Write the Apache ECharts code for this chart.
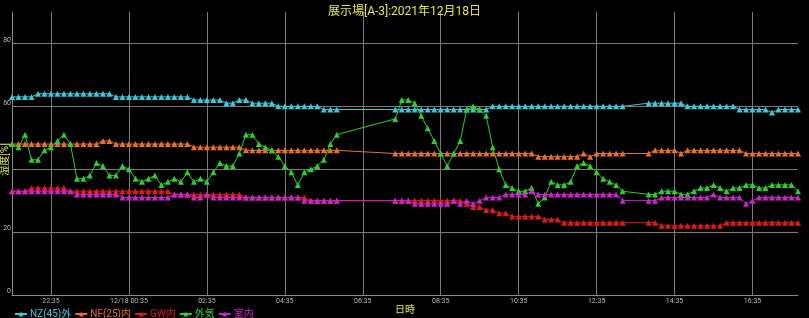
<!DOCTYPE html>
<html>
<head>
<meta charset="utf-8">
<script src="https://cdn.jsdelivr.net/npm/echarts@6/dist/echarts.min.js"></script>
<style>
html, body { margin: 0; padding: 0; background: #000; }
#chart { width: 809px; height: 318px; }
</style>
</head>
<body>
<div id="chart"></div>
<script>
// 10-minute readings, 12/17 21:35 .. 12/18 17:45
var times = []
for (var m = 21 * 60 + 35; m <= (24 + 17) * 60 + 45; m += 10) {
  var h = Math.floor(m / 60) % 24
  var mm = m % 60
  times.push((h < 10 ? '0' : '') + h + ':' + (mm < 10 ? '0' : '') + mm)
}

var nz45 = [
  63, 63, 63, 63, 64, 64, 64, 64, 64, 64, 64, 64, 64, 64, 64, 64,
  63, 63, 63, 63, 63, 63, 63, 63, 63, 63, 63, 63,
  62, 62, 62, 62, 62, 61, 61, 62, 62, 61, 61, 61, 61,
  60, 60, 60, 60, 60, 60, 60, 59, 59, 59,
  null, null, null, null, null, null, null, null,
  59, 59, 59, 59, 59, 59, 59, 59, 59, 59, 59, 59, 59, 59, 59,
  60, 60, 60, 60, 60, 60, 60, 60, 60, 60, 60, 60, 60, 60, 60, 60, 60, 60, 60, 60, 60,
  null, null, null,
  61, 61, 61, 61, 61, 61, 60, 60, 60, 60, 60, 60, 60, 60,
  59, 59, 59, 59, 59, 58, 59, 59, 59, 59
]
var nf25 = [
  48, 48, 48, 48, 48, 48, 48, 48, 48, 48, 48, 48, 48, 48, 49, 49,
  48, 48, 48, 48, 48, 48, 48, 48, 48, 48, 48, 48,
  47, 47, 47, 47, 47, 47, 47, 47,
  46, 46, 46, 46, 46, 46, 46, 46, 46, 46, 46, 46, 46, 46, 46,
  null, null, null, null, null, null, null, null,
  45, 45, 45, 45, 45, 45, 45, 45, 45, 45, 45, 45, 45, 45, 45, 45, 45, 45, 45, 45, 45, 45,
  44, 44, 44, 44, 44, 44, 44, 45, 44, 45, 45, 45, 45, 45,
  null, null, null,
  45, 46, 46, 46, 46, 45, 46, 46, 46, 46, 46, 46, 46, 46, 46,
  45, 45, 45, 45, 45, 45, 45, 45, 45
]
var gw = [
  33, 33, 33, 34, 34, 34, 34, 34, 34,
  33, 33, 33, 33, 33, 33, 33, 33, 33, 33, 33, 33, 33, 33, 33, 33,
  32, 32, 32, 32, 32, 32, 32, 32, 32, 32, 32,
  31, 31, 31, 31, 31, 31, 31, 31, 31, 31,
  30, 30, 30, 30, 30,
  null, null, null, null, null, null, null, null,
  30, 30, 30, 30, 30, 30, 30, 30, 30, 30, 30,
  29, 28, 28, 27, 27, 26, 26, 25, 25, 25, 25, 25, 24, 24, 24,
  23, 23, 23, 23, 23, 23, 23, 23, 23, 23,
  null, null, null,
  23, 23, 22, 22, 22, 22, 22, 22, 22, 22, 22, 22,
  23, 23, 23, 23, 23, 23, 23, 23, 23, 23, 23, 23
]
var outside = [
  48, 47, 51, 43, 43, 46, 47, 49, 51, 48,
  37, 37, 38, 42, 41, 38, 38, 41, 40, 37,
  36, 37, 38, 35, 36, 37, 36, 39, 36, 37,
  36, 39, 42, 41, 41, 45, 51, 51, 48, 47,
  46, 44, 41, 39, 35, 39, 40, 41, 43, 48, 51,
  null, null, null, null, null, null, null, null,
  56, 62, 62, 61, 57, 53, 49, 45, 41, 45, 49,
  59, 60, 59, 57, 47, 40, 35, 34, 33, 33,
  34, 29, 31, 36, 35, 35, 36, 41, 42, 41,
  39, 37, 36, 35, 33,
  null, null, null,
  32, 32, 33, 33, 33, 32, 32, 33, 34, 34,
  35, 34, 33, 34, 34, 35, 35, 34, 34, 35,
  35, 35, 35, 33
]
var room = [
  33, 33, 33, 33, 33, 33, 33, 33, 33, 33,
  32, 32, 32, 32, 32, 32, 32,
  31, 31, 31, 31, 31, 31, 31, 31,
  32, 32, 32, 31, 31, 32,
  31, 31, 31, 31, 31, 31, 31, 31, 31, 31, 31, 31, 31, 31,
  30, 30, 30, 30, 30, 30,
  null, null, null, null, null, null, null, null,
  30, 30, 30, 29, 29, 29, 29, 29, 29, 30, 29, 30, 29, 30,
  31, 31, 31, 32, 32, 32, 32, 33,
  32, 32, 32, 32, 32, 32, 32, 32, 32, 32, 32, 32, 32, 30,
  null, null, null,
  30, 30, 31, 31, 31, 31, 31, 31, 31, 31, 32, 31, 31, 31, 31, 29, 30,
  31, 31, 31, 31, 31, 31, 31
]

var names = ['NZ(45)外', 'NF(25)内', 'GW内', '外気', '室内']
var colors = ['#3cc8d8', '#e8702c', '#dc1c1c', '#2ed02e', '#cc24cc']
var values = [nz45, nf25, gw, outside, room]

var myChart = echarts.init(document.getElementById('chart'))

var everyTwoHours = function (idx) {
  return idx % 12 === 6
}

var option = {
  backgroundColor: '#000',
  animation: false,
  textStyle: {
    fontFamily: 'Roboto, "Noto Sans CJK JP", sans-serif'
  },
  title: {
    text: '展示場[A-3]:2021年12月18日',
    left: 'center',
    top: 1,
    textStyle: {
      color: '#e6e64a',
      fontSize: 12,
      fontWeight: 'normal'
    }
  },
  legend: {
    left: 9,
    bottom: -6,
    itemWidth: 12,
    itemHeight: 6,
    itemGap: 3,
    data: names.map(function (n, i) {
      return { name: n, textStyle: { color: colors[i] } }
    }),
    textStyle: { fontSize: 10, padding: [0, 0, 0, -2] }
  },
  grid: {
    left: 12,
    right: 11,
    top: 12,
    bottom: 23,
    outerBoundsMode: 'none'
  },
  xAxis: {
    type: 'category',
    boundaryGap: false,
    data: times,
    name: '日時',
    nameLocation: 'middle',
    nameGap: 10,
    nameMoveOverlap: false,
    nameTextStyle: { color: '#e6e64a', fontSize: 10 },
    axisLine: { lineStyle: { color: '#8a8a8a' } },
    axisTick: { show: false },
    axisLabel: {
      interval: everyTwoHours,
      color: '#bbb',
      fontSize: 7,
      margin: 3,
      formatter: function (v) {
        return v.indexOf('00:') === 0 ? '12/18 ' + v : v
      }
    },
    splitLine: {
      show: true,
      interval: everyTwoHours,
      lineStyle: { color: '#7a7a7a', width: 1 }
    }
  },
  yAxis: {
    type: 'value',
    min: 0,
    max: 90,
    interval: 20,
    name: '湿度[%]',
    nameLocation: 'middle',
    nameGap: 2,
    nameMoveOverlap: false,
    nameTextStyle: { color: '#e6e64a', fontSize: 10, padding: [0, 12, 0, 0] },
    axisLine: { show: true, lineStyle: { color: '#8a8a8a' } },
    axisTick: { show: false },
    axisLabel: {
      color: '#bbb',
      fontSize: 7,
      margin: 1,
      verticalAlign: 'bottom',
      showMaxLabel: false,
      formatter: function (v) {
        return v === 40 ? '' : v
      }
    },
    splitLine: {
      show: true,
      showMaxLine: false,
      lineStyle: { color: '#7a7a7a', width: 1 }
    }
  },
  series: values.map(function (d, i) {
    return {
      name: names[i],
      type: 'line',
      data: d,
      connectNulls: true,
      symbol: 'triangle',
      symbolSize: 6,
      showAllSymbol: true,
      itemStyle: { color: colors[i] },
      lineStyle: { color: colors[i], width: 1 }
    }
  })
}
myChart.setOption(option)
</script>
</body>
</html>
